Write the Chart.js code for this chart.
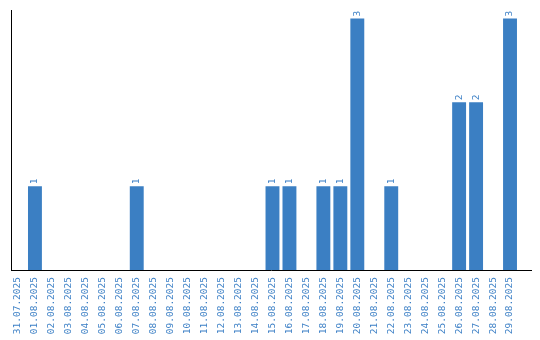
<!DOCTYPE html>
<html>
<head>
<meta charset="utf-8">
<script src="https://cdn.jsdelivr.net/npm/chart.js@4/dist/chart.umd.min.js"></script>
<style>
html,body{margin:0;padding:0;background:#fff;}
canvas{display:block;}
</style>
</head>
<body>
<canvas id="c" width="540" height="340"></canvas>
<script>
const categories = ["31.07.2025","01.08.2025","02.08.2025","03.08.2025","04.08.2025","05.08.2025","06.08.2025","07.08.2025","08.08.2025","09.08.2025","10.08.2025","11.08.2025","12.08.2025","13.08.2025","14.08.2025","15.08.2025","16.08.2025","17.08.2025","18.08.2025","19.08.2025","20.08.2025","21.08.2025","22.08.2025","23.08.2025","24.08.2025","25.08.2025","26.08.2025","27.08.2025","28.08.2025","29.08.2025"];
const counts = [0,1,0,0,0,0,0,1,0,0,0,0,0,0,0,1,1,0,1,1,3,0,1,0,0,0,2,2,0,3];

const BLUE = '#3b7fc3';
const TXT = '#3d80c6';
const FONT = '"DejaVu Sans Mono", "Liberation Mono", monospace';

// the category band is narrower than the drawn x axis line in the reference
const bandFit = {
  id: 'bandFit',
  afterLayout(chart) {
    const s = chart.scales.x;
    s._startPixel = s.left - 1.5;
    s._length = s.width - 11;
  }
};

const valueLabels = {
  id: 'valueLabels',
  afterDatasetsDraw(chart) {
    const ctx = chart.ctx;
    const meta = chart.getDatasetMeta(0);
    ctx.save();
    ctx.fillStyle = TXT;
    ctx.font = '9.5px ' + FONT;
    ctx.textAlign = 'left';
    ctx.textBaseline = 'middle';
    meta.data.forEach((bar, i) => {
      const v = counts[i];
      if (!v) return;
      ctx.save();
      ctx.translate(bar.x, bar.y - 2);
      ctx.rotate(-Math.PI / 2);
      ctx.fillText(String(v), 0, 0);
      ctx.restore();
    });
    ctx.restore();
  }
};

new Chart(document.getElementById('c'), {
  type: 'bar',
  data: {
    labels: categories,
    datasets: [{
      data: counts,
      backgroundColor: BLUE,
      borderWidth: 0,
      barPercentage: 0.82,
      categoryPercentage: 1.0
    }]
  },
  options: {
    responsive: false,
    animation: false,
    layout: { padding: { left: 10, right: 9, top: 10, bottom: 0 } },
    plugins: { legend: { display: false }, tooltip: { enabled: false } },
    scales: {
      x: {
        grid: { display: false, drawTicks: false },
        border: { display: true, color: '#000', width: 1 },
        afterFit(scale) { scale.height = 70; scale.paddingLeft = 0; scale.paddingRight = 0; },
        ticks: {
          autoSkip: false,
          minRotation: 90,
          maxRotation: 90,
          padding: 7,
          color: TXT,
          font: { size: 9.5, family: FONT }
        }
      },
      y: {
        min: 0,
        max: 3.1,
        grid: { display: false, drawTicks: false },
        border: { display: true, color: '#000', width: 1 },
        afterFit(scale) { scale.width = 1; },
        ticks: { display: false }
      }
    }
  },
  plugins: [bandFit, valueLabels]
});
</script>
</body>
</html>
